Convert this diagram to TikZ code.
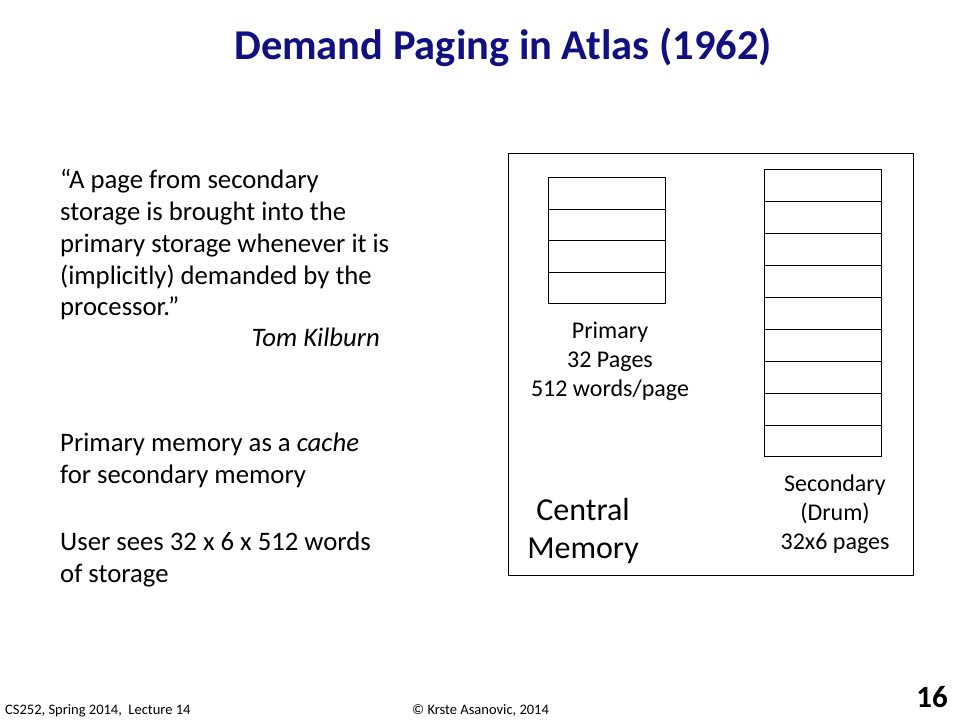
\documentclass[tikz,border=0pt]{standalone}
\usepackage{fontspec}
\setmainfont{Carlito}
\definecolor{titleblue}{RGB}{16,16,128}
\tikzset{
  cell/.style={draw=black, line width=1pt, fill=white, rectangle, inner sep=0pt, anchor=north west, minimum width=117pt},
  body/.style={inner sep=0pt, font=\fontsize{26.7pt}{32pt}\selectfont},
  lbl/.style={inner sep=0pt, align=center, font=\fontsize{24pt}{29pt}\selectfont},
  foot/.style={inner sep=0pt, anchor=base west, font=\fontsize{14.5pt}{16pt}\selectfont},
}
\begin{document}
\begin{tikzpicture}[x=1pt,y=-1pt]
\useasboundingbox[fill=white] (0,0) rectangle (960,720);
% title
\node[inner sep=0pt, anchor=base, text=titleblue, font=\fontsize{42.5pt}{50pt}\selectfont\bfseries] (title) at (503,59) {Demand Paging in Atlas (1962)};
% left text
\node[body, anchor=base west] (q1) at (60,188) {“A page from secondary};
\node[body, anchor=base west] (q2) at (60,220) {storage is brought into the};
\node[body, anchor=base west] (q3) at (60,252) {primary storage whenever it is};
\node[body, anchor=base west] (q4) at (60,284) {(implicitly) demanded by the};
\node[body, anchor=base west] (q5) at (60,315) {processor.”};
\node[body, anchor=base east] (auth) at (380,346) {\itshape Tom Kilburn};
\node[body, anchor=base west] (p1) at (60,451) {Primary memory as a \textit{cache}};
\node[body, anchor=base west] (p2) at (60,483) {for secondary memory};
\node[body, anchor=base west] (u1) at (60,550) {User sees 32 x 6 x 512 words};
\node[body, anchor=base west] (u2) at (60,582) {of storage};
% central memory box
\node[draw=black, line width=1pt, rectangle, inner sep=0pt, anchor=north west, minimum width=405pt, minimum height=422pt] (cm) at (508,153) {};
% primary pages
\foreach \i [evaluate=\i as \yy using 177.3+31.5*\i] in {0,...,3}{
  \node[cell, minimum height=31.5pt] (pr\i) at (548,\yy) {};
}
% secondary pages
\foreach \i [evaluate=\i as \yy using 169.3+31.9*\i] in {0,...,8}{
  \node[cell, minimum height=31.9pt] (se\i) at (764,\yy) {};
}
\node[lbl] (plabel) at (610,361) {Primary\\32 Pages\\512 words/page};
\node[lbl] (slabel) at (835,514) {Secondary\\(Drum)\\32x6 pages};
\node[inner sep=0pt, align=center, font=\fontsize{32pt}{38pt}\selectfont] (cmlabel) at (583,531) {Central\\\hspace*{0pt}Memory};
% footer
\node[foot] (f1) at (5,714) {CS252, Spring 2014,~ Lecture 14};
\node[foot] (f2) at (412,714) {© Krste Asanovic, 2014};
\node[inner sep=0pt, anchor=base east, font=\fontsize{31pt}{34pt}\selectfont\bfseries] (pg) at (948,707) {16};
\end{tikzpicture}
\end{document}
